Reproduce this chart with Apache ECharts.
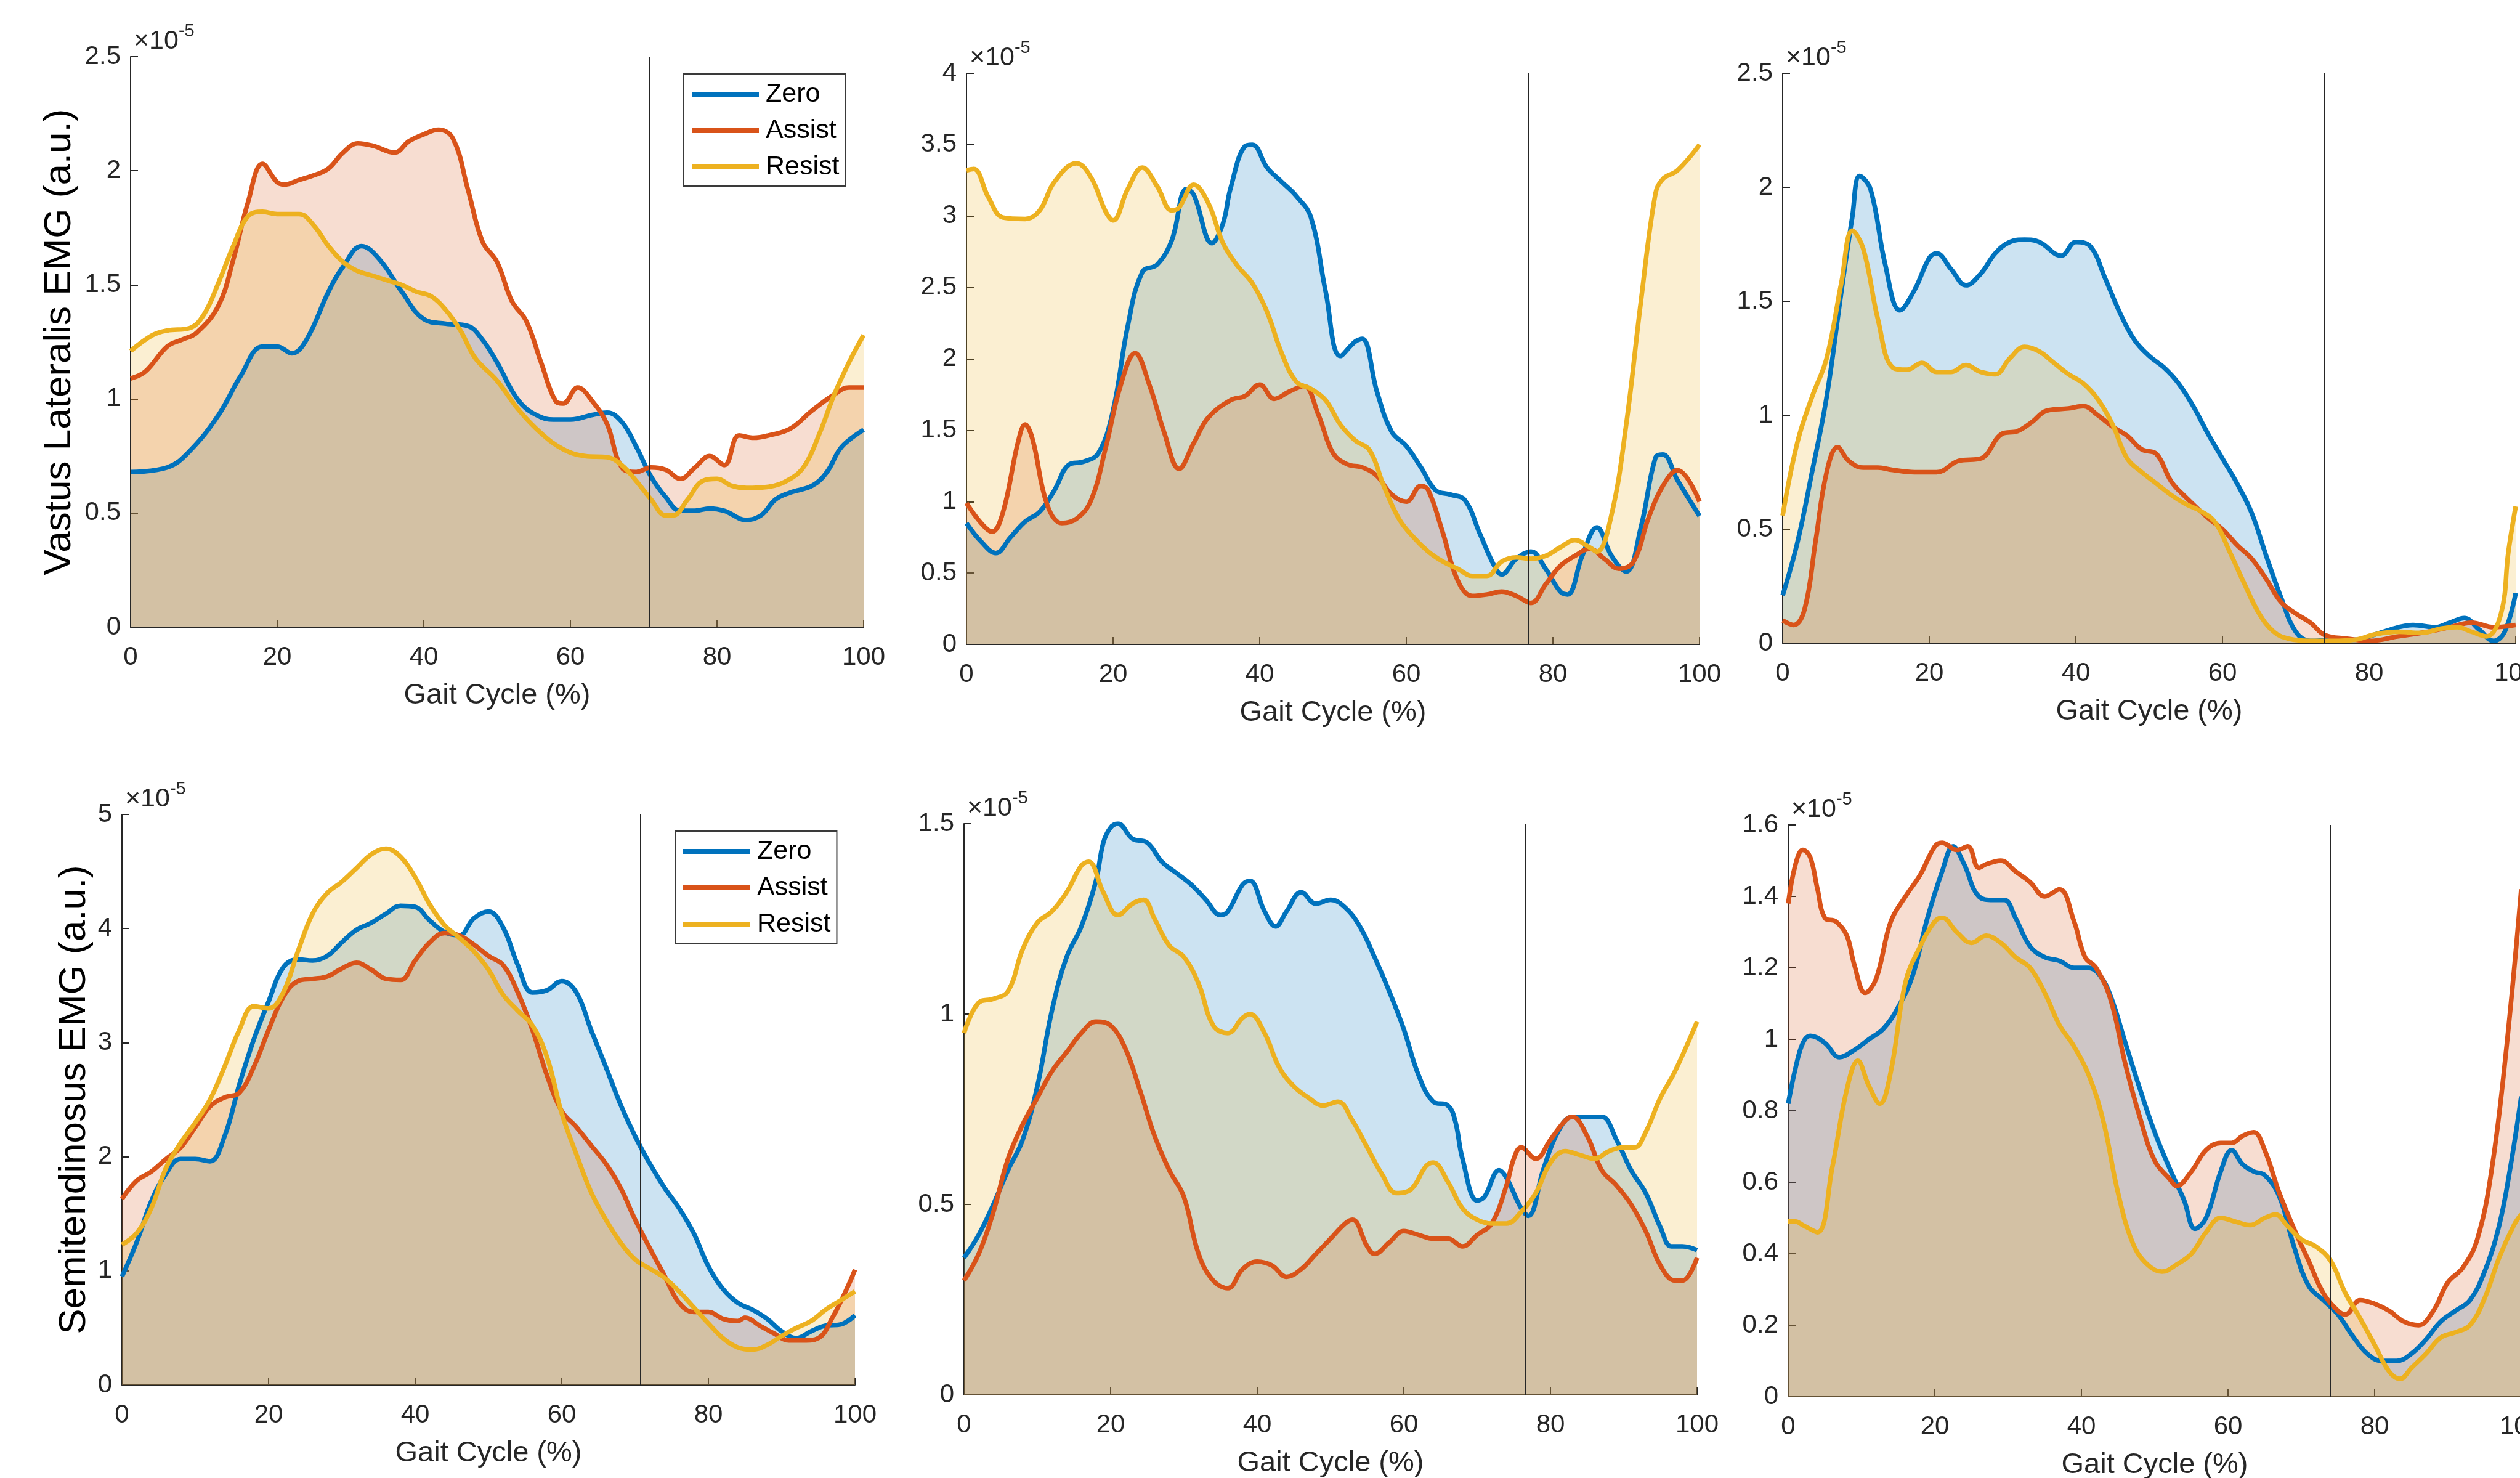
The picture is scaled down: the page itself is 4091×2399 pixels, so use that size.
<!DOCTYPE html>
<html><head><meta charset="utf-8">
<script src="https://cdn.jsdelivr.net/npm/echarts@6/dist/echarts.min.js"></script>
<style>html,body{margin:0;padding:0;background:#fff}#c{width:4091px;height:2399px}</style>
</head><body><div id="c"></div>
<script>
// ---------- DATA (EMG values in units of 1e-5 a.u.; x = gait cycle %) ----------
const seriesNames = ['Zero', 'Assist', 'Resist'];
const gaitTicks = [0, 20, 40, 60, 80, 100];
const toeOff = [70.7, 76.6, 73.9];           // vertical reference line per column
const yTitles = ['Vastus Lateralis EMG (a.u.)', '', '', 'Semitendinosus EMG (a.u.)', '', ''];
const yMax = [2.5, 4, 2.5, 5, 1.5, 1.6];
const yStep = [0.5, 0.5, 0.5, 1, 0.5, 0.2];
const yExponent = '-5';

// Vastus Lateralis - panel 1
const vl1Zero = [[0,0.68],[5,0.70],[8,0.77],[12,0.93],[15,1.10],[18,1.23],[20,1.23],[22,1.20],[24,1.26],[27,1.47],[29,1.58],[31.5,1.67],[34,1.61],[37,1.47],[40,1.35],[43,1.33],[46,1.32],[48,1.26],[50,1.16],[53,0.99],[56,0.92],[58,0.91],[60,0.91],[63,0.93],[65,0.94],[67,0.90],[69,0.79],[71,0.66],[73,0.57],[75,0.51],[77,0.51],[79,0.52],[81,0.51],[84,0.47],[86,0.49],[88,0.56],[90,0.59],[93,0.62],[95,0.68],[97,0.79],[100,0.865]];
const vl1Assist = [[0,1.09],[2,1.12],[5,1.23],[7,1.26],[9,1.29],[12,1.41],[14,1.61],[16,1.86],[18,2.03],[20,1.95],[21,1.94],[23,1.96],[25,1.98],[27,2.01],[29,2.08],[31,2.12],[33,2.11],[36,2.08],[38,2.13],[40,2.16],[42,2.18],[44,2.14],[46,1.92],[48,1.69],[50,1.60],[52,1.43],[54,1.34],[56,1.16],[58,0.99],[59,0.98],[61,1.05],[63,0.99],[65,0.89],[67,0.70],[69,0.68],[71,0.70],[73,0.69],[75,0.65],[77,0.70],[79,0.75],[81,0.71],[83,0.84],[85,0.83],[87,0.84],[90,0.87],[93,0.95],[96,1.02],[98,1.05],[100,1.05]];
const vl1Resist = [[0,1.21],[3,1.28],[5,1.30],[8,1.31],[10,1.37],[12,1.51],[14,1.67],[16,1.80],[18,1.82],[20,1.81],[23,1.81],[25,1.76],[27,1.67],[29,1.60],[31,1.56],[33,1.54],[35,1.52],[37,1.50],[39,1.47],[41,1.45],[43,1.39],[45,1.30],[47,1.18],[50,1.08],[53,0.95],[56,0.85],[59,0.78],[62,0.75],[65,0.745],[67,0.71],[69,0.64],[71,0.56],[73,0.49],[74,0.49],[76,0.56],[78,0.64],[80,0.65],[82,0.62],[84,0.61],[87,0.615],[90,0.65],[92,0.71],[94,0.85],[96,1.02],[98,1.16],[100,1.28]];

// Vastus Lateralis - panel 2
const vl2Zero = [[0,0.85],[2,0.72],[4,0.64],[6,0.75],[8,0.86],[10,0.93],[12,1.08],[14,1.26],[16,1.28],[18,1.34],[20,1.64],[22,2.23],[24,2.61],[26,2.66],[28,2.83],[30,3.19],[31,3.15],[33.5,2.81],[35,2.95],[36,3.19],[38,3.49],[39,3.50],[41,3.34],[43,3.24],[45,3.14],[47,2.99],[49,2.47],[51,2.02],[53,2.12],[54,2.14],[56,1.77],[58,1.49],[60,1.39],[62,1.24],[64,1.08],[66,1.05],[68,1.01],[70,0.78],[72,0.55],[73,0.49],[75,0.60],[77,0.65],[79,0.53],[81,0.37],[82,0.35],[84,0.62],[86,0.82],[88,0.62],[90,0.51],[92,0.82],[94,1.31],[95,1.33],[97,1.15],[100,0.90]];
const vl2Assist = [[0,0.99],[2,0.85],[3.5,0.79],[5,0.93],[7,1.41],[8,1.54],[9,1.44],[11,0.98],[13,0.85],[15,0.88],[17,1.01],[19,1.38],[21,1.81],[23,2.04],[25,1.81],[27,1.48],[29,1.23],[31,1.41],[33,1.59],[36,1.71],[38,1.74],[40,1.82],[42,1.72],[44,1.77],[46,1.81],[48,1.61],[50,1.34],[52,1.26],[54,1.24],[56,1.18],[58,1.05],[60,1.00],[62,1.11],[63,1.08],[65,0.78],[67,0.45],[69,0.34],[71,0.35],[73,0.37],[75,0.34],[77,0.29],[79,0.42],[81,0.55],[83,0.62],[85,0.67],[87,0.60],[89,0.53],[91,0.58],[93,0.88],[95,1.11],[97,1.22],[100,1.00]];
const vl2Resist = [[0,3.32],[1,3.33],[3,3.13],[5,2.99],[8,2.98],[10,3.04],[12,3.24],[15,3.37],[17,3.27],[19,3.03],[20,2.97],[22,3.19],[24,3.34],[26,3.21],[28,3.04],[29,3.06],[31,3.22],[33,3.09],[35,2.81],[37,2.65],[39,2.53],[41,2.33],[43,2.04],[45,1.84],[47,1.79],[49,1.71],[51,1.54],[53,1.43],[55,1.36],[57,1.10],[59,0.88],[61,0.75],[63,0.65],[65,0.58],[67,0.53],[69,0.48],[71,0.48],[73,0.58],[75,0.61],[77,0.60],[79,0.62],[81,0.68],[83,0.73],[85,0.68],[86,0.65],[88,0.91],[90,1.54],[92,2.40],[94,3.16],[95,3.26],[97,3.32],[100,3.50]];

// Vastus Lateralis - panel 3
const vl3Zero = [[0,0.21],[2,0.44],[4,0.75],[6,1.08],[8,1.54],[9.5,1.87],[10.5,2.05],[12,1.99],[14,1.66],[16,1.46],[18,1.55],[20,1.69],[21,1.71],[23,1.64],[25,1.57],[27,1.62],[29,1.71],[31,1.76],[33,1.77],[35,1.76],[38,1.70],[40,1.76],[42,1.74],[44,1.60],[46,1.45],[48,1.33],[50,1.26],[52,1.21],[54,1.14],[56,1.04],[58,0.92],[60,0.81],[62,0.70],[64,0.57],[66,0.38],[68,0.20],[70,0.05],[72,0.01],[75,0.015],[78,0.015],[81,0.04],[84,0.07],[86,0.08],[89,0.07],[91,0.09],[93,0.11],[95,0.06],[97,0.01],[98.5,0.05],[100,0.22]];
const vl3Assist = [[0,0.10],[1.5,0.08],[3,0.15],[4.5,0.45],[6,0.75],[7.5,0.86],[9,0.80],[11,0.77],[13,0.77],[15,0.76],[18,0.75],[21,0.75],[24,0.80],[27,0.81],[30,0.92],[32,0.93],[34,0.97],[36,1.02],[39,1.03],[41,1.04],[43,1.00],[45,0.95],[47,0.91],[49,0.85],[51,0.83],[53,0.71],[55,0.64],[58,0.55],[60,0.50],[62,0.43],[64,0.37],[66,0.28],[68,0.18],[70,0.13],[72,0.09],[74,0.035],[77,0.02],[80,0.01],[84,0.03],[88,0.05],[91,0.07],[94,0.09],[97,0.07],[100,0.08]];
const vl3Resist = [[0,0.56],[2,0.88],[4,1.08],[6,1.25],[8,1.58],[9.5,1.81],[11,1.73],[13,1.42],[15,1.21],[17,1.20],[19,1.23],[21,1.19],[23,1.19],[25,1.22],[27,1.19],[29,1.18],[31,1.25],[33,1.30],[35,1.28],[37,1.23],[39,1.18],[41,1.14],[43,1.07],[45,0.96],[47,0.81],[49,0.75],[51,0.70],[53,0.65],[55,0.61],[57,0.58],[59,0.53],[61,0.40],[63,0.26],[65,0.13],[67,0.05],[69,0.02],[72,0.01],[75,0.01],[78,0.015],[81,0.04],[84,0.05],[87,0.045],[90,0.065],[92,0.07],[94,0.05],[96,0.03],[98,0.13],[99,0.40],[100,0.60]];

// Semitendinosus - panel 4
const st1Zero = [[0,0.95],[2,1.25],[4,1.61],[6,1.85],[8,1.98],[10,1.98],[12,1.96],[14,2.18],[16,2.63],[18,3.03],[20,3.36],[22,3.66],[24,3.73],[26,3.72],[28,3.76],[30,3.88],[32,3.99],[34,4.05],[36,4.13],[38,4.20],[40,4.19],[42,4.07],[44,3.97],[46,3.94],[48,4.09],[50,4.15],[52,4.01],[54,3.68],[56,3.44],[58,3.46],[60,3.54],[62,3.44],[64,3.11],[66,2.79],[68,2.46],[70,2.18],[72,1.94],[74,1.73],[76,1.55],[78,1.33],[80,1.04],[82,0.84],[84,0.72],[86,0.66],[88,0.58],[90,0.47],[92,0.41],[94,0.47],[96,0.52],[98,0.53],[100,0.61]];
const st1Assist = [[0,1.63],[2,1.79],[4,1.87],[6,1.98],[8,2.08],[10,2.26],[12,2.44],[14,2.52],[16,2.56],[18,2.79],[20,3.11],[22,3.40],[24,3.54],[26,3.56],[28,3.58],[30,3.65],[32,3.70],[34,3.64],[36,3.56],[38,3.55],[40,3.72],[42,3.88],[44,3.96],[46,3.94],[48,3.86],[50,3.76],[52,3.68],[54,3.44],[56,3.11],[58,2.71],[60,2.40],[62,2.26],[64,2.10],[66,1.94],[68,1.73],[70,1.45],[72,1.20],[74,0.96],[76,0.72],[78,0.64],[80,0.64],[82,0.58],[84,0.56],[85,0.59],[87,0.52],[89,0.45],[91,0.39],[93,0.39],[95,0.41],[97,0.60],[99,0.86],[100,1.01]];
const st1Resist = [[0,1.23],[2,1.33],[4,1.55],[6,1.90],[8,2.12],[10,2.30],[12,2.50],[14,2.79],[16,3.11],[18,3.32],[20,3.30],[22,3.44],[24,3.80],[26,4.13],[28,4.31],[30,4.41],[32,4.53],[34,4.65],[36,4.70],[38,4.63],[40,4.45],[42,4.21],[44,4.03],[46,3.92],[48,3.80],[50,3.64],[52,3.42],[54,3.28],[56,3.15],[58,2.87],[60,2.38],[62,2.02],[64,1.69],[66,1.45],[68,1.25],[70,1.10],[72,1.02],[74,0.94],[76,0.82],[78,0.68],[80,0.54],[82,0.41],[84,0.33],[86,0.31],[88,0.35],[90,0.43],[92,0.50],[94,0.56],[96,0.66],[98,0.74],[100,0.82]];

// Semitendinosus - panel 5
const st2Zero = [[0,0.36],[2,0.42],[4,0.50],[6,0.59],[8,0.67],[10,0.81],[12,1.01],[14,1.15],[16,1.23],[18,1.35],[19,1.45],[20,1.49],[21,1.50],[23,1.46],[25,1.45],[27,1.40],[29,1.37],[31,1.34],[33,1.30],[35,1.26],[36,1.27],[38,1.34],[39,1.35],[41,1.27],[42.5,1.23],[44,1.27],[46,1.32],[48,1.29],[50,1.30],[52,1.28],[54,1.23],[56,1.15],[58,1.06],[60,0.96],[62,0.84],[64,0.77],[66,0.76],[67,0.72],[68,0.62],[70,0.51],[71,0.52],[73,0.59],[74,0.57],[76,0.49],[77,0.47],[79,0.59],[81,0.69],[83,0.73],[85,0.73],[87,0.73],[89,0.67],[91,0.59],[93,0.53],[95,0.44],[96.5,0.39],[98,0.39],[100,0.38]];
const st2Assist = [[0,0.30],[2,0.37],[4,0.48],[6,0.62],[8,0.71],[10,0.78],[12,0.85],[14,0.90],[16,0.95],[18,0.98],[20,0.97],[22,0.91],[24,0.80],[26,0.68],[28,0.59],[30,0.52],[32,0.37],[34,0.30],[36,0.28],[38,0.33],[40,0.35],[42,0.34],[44,0.31],[46,0.33],[48,0.37],[50,0.41],[52,0.45],[53,0.46],[55,0.39],[56,0.37],[58,0.40],[60,0.43],[62,0.42],[64,0.41],[66,0.41],[68,0.39],[70,0.42],[72,0.45],[74,0.55],[75,0.62],[76,0.65],[78,0.62],[80,0.67],[82,0.72],[83,0.73],[85,0.68],[87,0.59],[89,0.55],[91,0.50],[93,0.43],[95,0.34],[97,0.30],[98,0.30],[100,0.36]];
const st2Resist = [[0,0.95],[2,1.03],[4,1.04],[6,1.06],[8,1.17],[10,1.24],[12,1.27],[14,1.32],[16,1.39],[17,1.40],[19,1.32],[21,1.26],[23,1.29],[24.5,1.30],[26,1.25],[28,1.18],[30,1.15],[32,1.08],[34,0.97],[36,0.95],[38,0.99],[39,1.00],[41,0.95],[43,0.86],[45,0.81],[47,0.78],[49,0.76],[51,0.77],[53,0.72],[55,0.65],[57,0.58],[59,0.53],[61,0.54],[63,0.60],[64,0.61],[66,0.56],[68,0.49],[70,0.46],[72,0.45],[74,0.45],[76,0.48],[78,0.53],[80,0.61],[82,0.64],[84,0.63],[86,0.62],[88,0.64],[90,0.65],[91.5,0.65],[93,0.69],[95,0.78],[97,0.85],[100,0.98]];

// Semitendinosus - panel 6
const st3Zero = [[0,0.82],[1,0.92],[2,0.99],[3,1.01],[5,0.99],[7,0.95],[9,0.97],[11,1.00],[13,1.03],[15,1.09],[17,1.18],[19,1.34],[21,1.47],[22.5,1.54],[24,1.49],[26,1.40],[28,1.39],[29.5,1.39],[31,1.34],[33,1.26],[35,1.23],[37,1.22],[39,1.20],[41,1.20],[42.5,1.18],[44,1.12],[46,0.99],[48,0.86],[50,0.74],[52,0.64],[54,0.55],[55.5,0.47],[57,0.50],[59,0.63],[60.5,0.69],[62,0.65],[63.5,0.63],[65,0.62],[67,0.56],[69,0.42],[71,0.31],[73,0.27],[75,0.23],[77,0.17],[79,0.12],[81,0.10],[83,0.10],[85,0.12],[87,0.16],[89,0.21],[91,0.24],[93,0.27],[95,0.35],[97,0.48],[98.5,0.64],[100,0.84]];
const st3Assist = [[0,1.38],[1,1.49],[2,1.53],[3,1.51],[4,1.42],[5,1.34],[6.5,1.33],[8,1.29],[9,1.21],[10.5,1.13],[12,1.17],[14,1.33],[16,1.40],[18,1.46],[20,1.54],[21,1.55],[23,1.53],[24.5,1.54],[26,1.48],[27,1.49],[29,1.50],[31,1.47],[33,1.44],[35,1.40],[37,1.42],[39,1.33],[40.5,1.23],[42,1.20],[44,1.11],[46,0.93],[48,0.78],[50,0.66],[52,0.61],[53,0.59],[55,0.63],[57,0.69],[59,0.71],[60.5,0.71],[62,0.73],[63.5,0.74],[65,0.69],[67,0.57],[69,0.47],[71,0.38],[73,0.29],[75,0.24],[76,0.23],[78,0.27],[80,0.26],[82,0.24],[84,0.21],[86,0.20],[88,0.24],[90,0.32],[92,0.36],[94,0.44],[96,0.64],[98,0.98],[100,1.42]];
const st3Resist = [[0,0.49],[1,0.49],[2,0.48],[4,0.46],[6,0.64],[8,0.86],[9.5,0.94],[11,0.87],[12.5,0.82],[14,0.91],[16,1.16],[18,1.26],[20,1.33],[21,1.34],[23,1.30],[25,1.27],[27,1.29],[29,1.27],[31,1.23],[33,1.20],[35,1.13],[37,1.04],[39,0.98],[41,0.90],[43,0.77],[45,0.57],[47,0.43],[49,0.37],[51,0.35],[53,0.37],[55,0.40],[57,0.46],[59,0.50],[61,0.49],[63,0.48],[65,0.50],[66.5,0.51],[68,0.48],[70,0.44],[72,0.42],[74,0.38],[76,0.29],[78,0.22],[80,0.145],[82,0.07],[83.5,0.05],[85,0.08],[87,0.12],[89,0.165],[91,0.18],[93,0.20],[95,0.275],[97,0.39],[99,0.48],[100,0.51]];

// ---------- LAYOUT / STYLE ----------
const panelData = [
  [vl1Zero, vl1Assist, vl1Resist],
  [vl2Zero, vl2Assist, vl2Resist],
  [vl3Zero, vl3Assist, vl3Resist],
  [st1Zero, st1Assist, st1Resist],
  [st2Zero, st2Assist, st2Resist],
  [st3Zero, st3Assist, st3Resist]
];
const gridBoxes = [
  [212, 92, 1190, 926],
  [1569, 119, 1190, 927],
  [2894, 119, 1190, 925],
  [198, 1322, 1190, 926],
  [1565, 1337, 1190, 927],
  [2903, 1339, 1190, 928]
];
const yTitleGap = [84, 0, 0, 46, 0, 0];
const colors = ['#0072BD', '#D95319', '#EDB120'];
const axisColor = '#262626';
const FONT = '"Liberation Sans", Arial, Helvetica, sans-serif';

const option = {
  animation: false,
  backgroundColor: '#ffffff',
  textStyle: { fontFamily: FONT },
  grid: [], xAxis: [], yAxis: [], series: [],
  legend: [
    { left: 1110, top: 120 },
    { left: 1096, top: 1349 }
  ].map(pos => ({
    left: pos.left, top: pos.top, orient: 'vertical',
    data: seriesNames, icon: 'rect', itemWidth: 109, itemHeight: 8, itemGap: 13,
    padding: [10, 10, 8, 13], borderColor: '#3a3a3a', borderWidth: 2, backgroundColor: '#ffffff',
    selectedMode: false,
    textStyle: { fontSize: 43, color: '#000', fontFamily: FONT, lineHeight: 46, padding: [0, 0, 0, 6] }
  }))
};

panelData.forEach((sets, i) => {
  const [l, t, w, h] = gridBoxes[i];
  const col = i % 3;
  option.grid.push({ left: l, top: t, width: w, height: h, outerBoundsMode: 'none', containLabel: false });
  option.xAxis.push({
    type: 'value', gridIndex: i, min: gaitTicks[0], max: gaitTicks[gaitTicks.length - 1],
    interval: gaitTicks[1] - gaitTicks[0],
    name: 'Gait Cycle (%)', nameLocation: 'middle', nameGap: 88,
    nameTextStyle: { fontSize: 47, color: axisColor, fontFamily: FONT },
    axisLine: { show: true, onZero: false, lineStyle: { color: axisColor, width: 2 } },
    axisTick: { show: true, inside: true, length: 12, lineStyle: { color: axisColor, width: 2 } },
    axisLabel: { fontSize: 42, color: axisColor, margin: 28, fontFamily: FONT, hideOverlap: false },
    splitLine: { show: false }
  });
  const mainY = option.yAxis.length;
  option.yAxis.push({
    type: 'value', gridIndex: i, position: 'left', min: 0, max: yMax[i], interval: yStep[i],
    name: '{x|×10}{e|' + yExponent + '}', nameLocation: 'end', nameGap: 3,
    nameTextStyle: {
      align: 'left', verticalAlign: 'bottom',
      rich: {
        x: { fontSize: 43, color: axisColor, fontFamily: FONT, padding: [10, 0, 0, 5], verticalAlign: 'bottom' },
        e: { fontSize: 29, color: axisColor, fontFamily: FONT, verticalAlign: 'top' }
      }
    },
    axisLine: { show: true, onZero: false, lineStyle: { color: axisColor, width: 2 } },
    axisTick: { show: true, inside: true, length: 12, lineStyle: { color: axisColor, width: 2 } },
    axisLabel: { fontSize: 42, color: axisColor, margin: 16, fontFamily: FONT },
    splitLine: { show: false }
  });
  if (yTitles[i]) {
    option.yAxis.push({
      type: 'value', gridIndex: i, position: 'left', offset: 0, min: 0, max: yMax[i],
      name: yTitles[i], nameLocation: 'middle', nameGap: yTitleGap[i],
      nameTextStyle: { fontSize: 62, color: '#000', fontFamily: FONT },
      axisLine: { show: false }, axisTick: { show: false }, axisLabel: { show: false }, splitLine: { show: false }
    });
  }
  sets.forEach((d, k) => {
    const s = {
      type: 'line', name: seriesNames[k], xAxisIndex: i, yAxisIndex: mainY, data: d,
      smooth: 0.4, symbol: 'none', showSymbol: false, color: colors[k],
      lineStyle: { width: 7.5, color: colors[k] },
      areaStyle: { color: colors[k], opacity: 0.2 },
      emphasis: { disabled: true }, silent: true
    };
    if (k === sets.length - 1) {
      s.markLine = {
        silent: true, symbol: ['none', 'none'], label: { show: false },
        lineStyle: { color: axisColor, width: 2, type: 'solid' },
        emphasis: { disabled: true },
        data: [{ xAxis: toeOff[col] }]
      };
    }
    option.series.push(s);
  });
});

const chart = echarts.init(document.getElementById('c'), null, { renderer: 'canvas' });
chart.setOption(option);
</script>
</body></html>
